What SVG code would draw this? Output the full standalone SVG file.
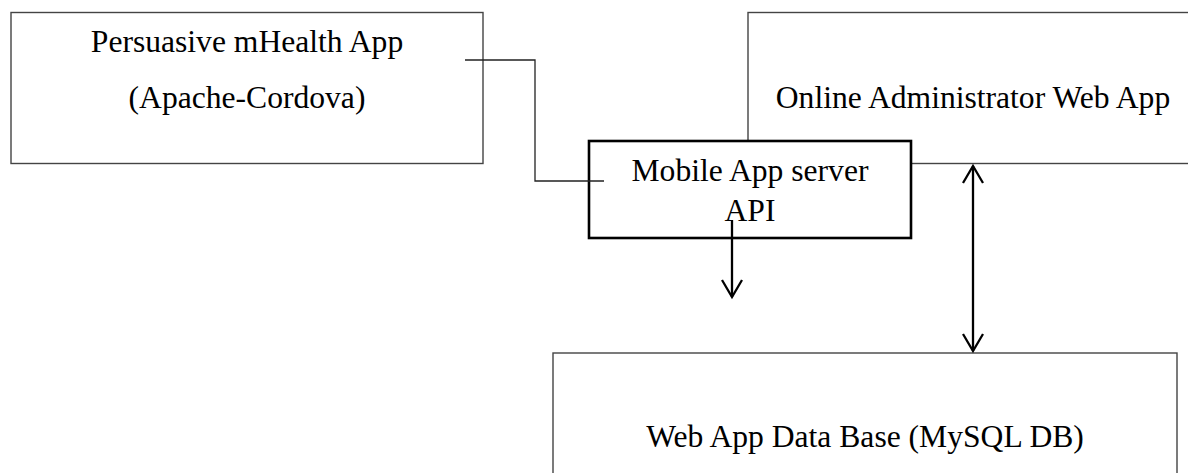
<svg xmlns="http://www.w3.org/2000/svg" width="1188" height="473" viewBox="0 0 1188 473">
<style>
.box{fill:none;stroke:#444;stroke-width:1.4}
.bold{fill:none;stroke:#000;stroke-width:2.6}
.t{font-family:"Liberation Serif","Times New Roman",serif;font-size:31.6px;fill:#000;text-anchor:middle}
.thin{fill:none;stroke:#222;stroke-width:1.3}
.arr{fill:none;stroke:#000;stroke-width:2.3}
.head{fill:none;stroke:#000;stroke-width:2.3;stroke-linejoin:miter}
</style>
<rect width="1188" height="473" fill="#fff"/>
<g id="node-mhealth">
<rect class="box" x="11" y="12.5" width="472" height="151"/>
<text class="t" x="247" y="52">Persuasive mHealth App</text>
<text class="t" x="247" y="108">(Apache-Cordova)</text>
</g>
<g id="node-online">
<rect class="box" x="748" y="12.5" width="450" height="151"/>
<text class="t" x="973" y="108">Online Administrator Web App</text>
</g>
<g id="node-db">
<rect class="box" x="553" y="353" width="624" height="140"/>
<text class="t" x="865" y="447">Web App Data Base (MySQL DB)</text>
</g>
<g id="node-mobile">
<rect x="589" y="141" width="322" height="97" fill="#fff" stroke="none"/>
<rect class="bold" x="589" y="141" width="322" height="97"/>
<text class="t" x="750" y="181">Mobile App server</text>
<text class="t" x="750" y="221">API</text>
</g>
<g id="connectors">
<polyline class="thin" points="465,60 535,60 535,181 604,181"/>
<line class="arr" x1="732" y1="220" x2="732" y2="297"/>
<polyline class="head" points="722,280 732,297 742,280"/>
<line class="arr" x1="973" y1="166" x2="973" y2="351"/>
<polyline class="head" points="963,183 973,166 983,183"/>
<polyline class="head" points="963,334 973,351 983,334"/>
</g>
</svg>
